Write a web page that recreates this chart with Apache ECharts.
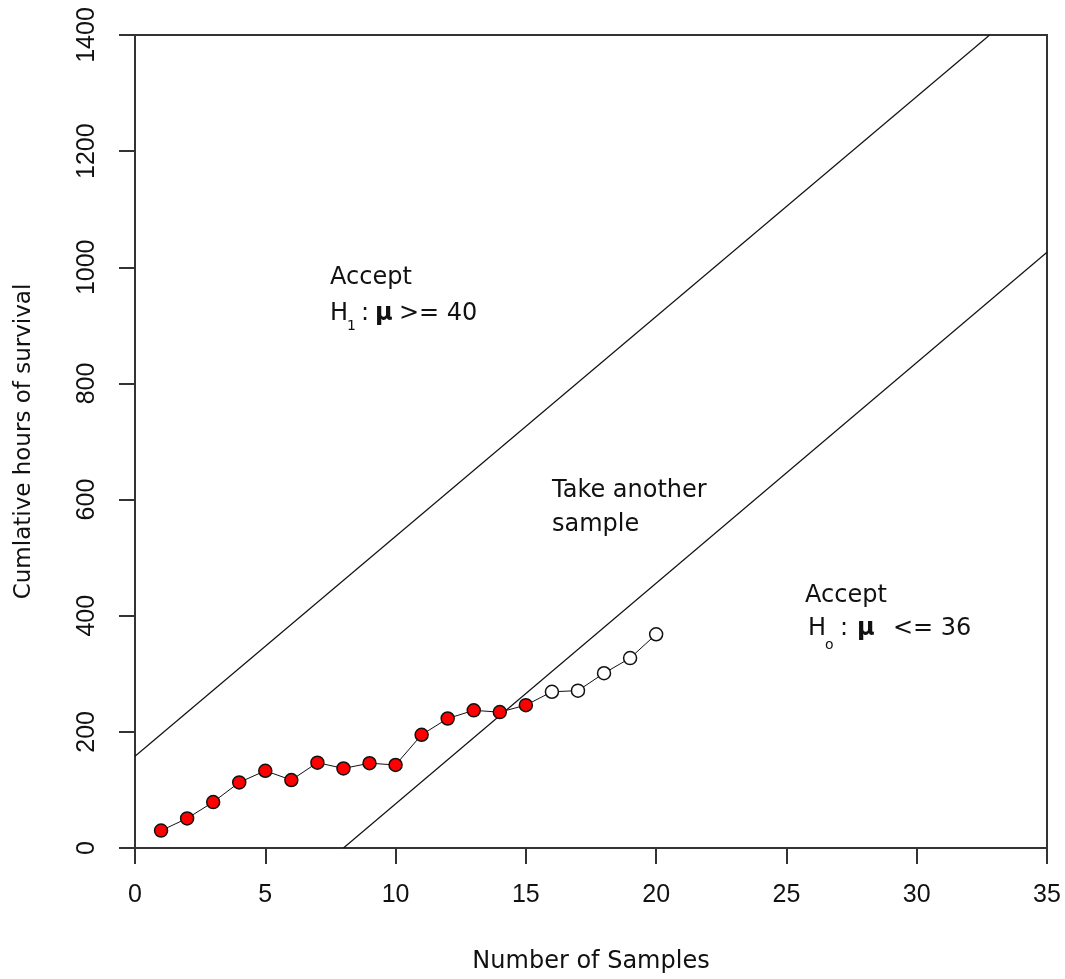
<!DOCTYPE html>
<html>
<head>
<meta charset="utf-8">
<title>Sequential test</title>
<script src="https://cdn.jsdelivr.net/npm/echarts@6/dist/echarts.min.js"></script>
<style>
  html, body { margin: 0; padding: 0; background: #fff; }
  #chart { width: 1065px; height: 979px; }
</style>
</head>
<body>
<div id="chart"></div>
<script>
// sample number and cumulative hours
const sampleNo = [1, 2, 3, 4, 5, 6, 7, 8, 9, 10, 11, 12, 13, 14, 15, 16, 17, 18, 19, 20]
const cumHours = [30, 51, 79, 113, 133, 117, 147, 137, 146, 143, 195, 223, 237, 234, 246, 269, 271, 301, 327, 368]
const filledCount = 15 // first 15 samples drawn solid red, rest open

// decision boundaries (endpoints in data units)
const upperLine = [[0, 158], [32.8, 1400]]
const lowerLine = [[8, 0], [35, 1026]]

const xTicks = [0, 35, 5]      // min, max, interval
const yTicks = [0, 1400, 200]

const numFont = 'Liberation Sans, Arial, Helvetica, sans-serif'
const font = 'DejaVu Sans, Verdana, sans-serif'
const ink = '#111'

const pointData = sampleNo.map((n, i) => ({
  value: [n, cumHours[i]],
  itemStyle: { color: i < filledCount ? '#ff0000' : '#ffffff' }
}))

function txt (x, y, text, size, bold) {
  return {
    type: 'text',
    x: x,
    y: y,
    silent: true,
    style: {
      text: text,
      fill: ink,
      font: (bold ? 'bold ' : '') + size + 'px ' + font,
      verticalAlign: 'middle',
      align: 'left'
    }
  }
}

const chart = echarts.init(document.getElementById('chart'))
chart.setOption({
  animation: false,
  backgroundColor: '#fff',
  grid: {
    left: 135,
    right: 18,
    top: 35,
    bottom: 130,
    show: true,
    borderColor: '#333',
    borderWidth: 2
  },
  xAxis: {
    type: 'value',
    min: xTicks[0],
    max: xTicks[1],
    interval: xTicks[2],
    name: 'Number of Samples',
    nameLocation: 'middle',
    nameGap: 102,
    nameTextStyle: { fontFamily: font, fontSize: 24, color: ink },
    axisLine: { lineStyle: { color: '#333', width: 2 } },
    axisTick: { length: 16, lineStyle: { color: '#333', width: 2 } },
    axisLabel: { fontFamily: numFont, fontSize: 25, color: ink, margin: 35 },
    splitLine: { show: false }
  },
  yAxis: {
    type: 'value',
    min: yTicks[0],
    max: yTicks[1],
    interval: yTicks[2],
    name: 'Cumlative hours of survival',
    nameLocation: 'middle',
    nameGap: 99,
    nameTextStyle: { fontFamily: font, fontSize: 23, color: ink },
    axisLine: { show: true, lineStyle: { color: '#333', width: 2 } },
    axisTick: { show: true, length: 16, lineStyle: { color: '#333', width: 2 } },
    axisLabel: {
      fontFamily: numFont,
      fontSize: 25,
      color: ink,
      rotate: 90,
      margin: 35,
      formatter: v => String(v)
    },
    splitLine: { show: false }
  },
  series: [
    {
      type: 'line',
      data: upperLine,
      symbol: 'none',
      silent: true,
      lineStyle: { color: '#111', width: 1.2 }
    },
    {
      type: 'line',
      data: lowerLine,
      symbol: 'none',
      silent: true,
      lineStyle: { color: '#111', width: 1.2 }
    },
    {
      type: 'line',
      data: pointData,
      symbol: 'circle',
      symbolSize: 13,
      lineStyle: { color: '#111', width: 1 },
      itemStyle: { borderColor: '#111', borderWidth: 1.5 },
      z: 5
    }
  ],
  graphic: [
    txt(330, 278, 'Accept', 24),
    txt(330, 314, 'H', 24),
    txt(347, 326, '1', 14),
    txt(361, 314, ':', 24),
    txt(375, 314, 'μ', 24, true),
    txt(399, 314, '>= 40', 24),

    txt(552, 491, 'Take another', 24),
    txt(552, 525, 'sample', 24),

    txt(805, 596, 'Accept', 24),
    txt(808, 629, 'H', 24),
    txt(825, 645, 'o', 14),
    txt(840, 629, ':', 24),
    txt(857, 629, 'μ', 24, true),
    txt(893, 629, '<= 36', 24)
  ]
})
</script>
</body>
</html>
